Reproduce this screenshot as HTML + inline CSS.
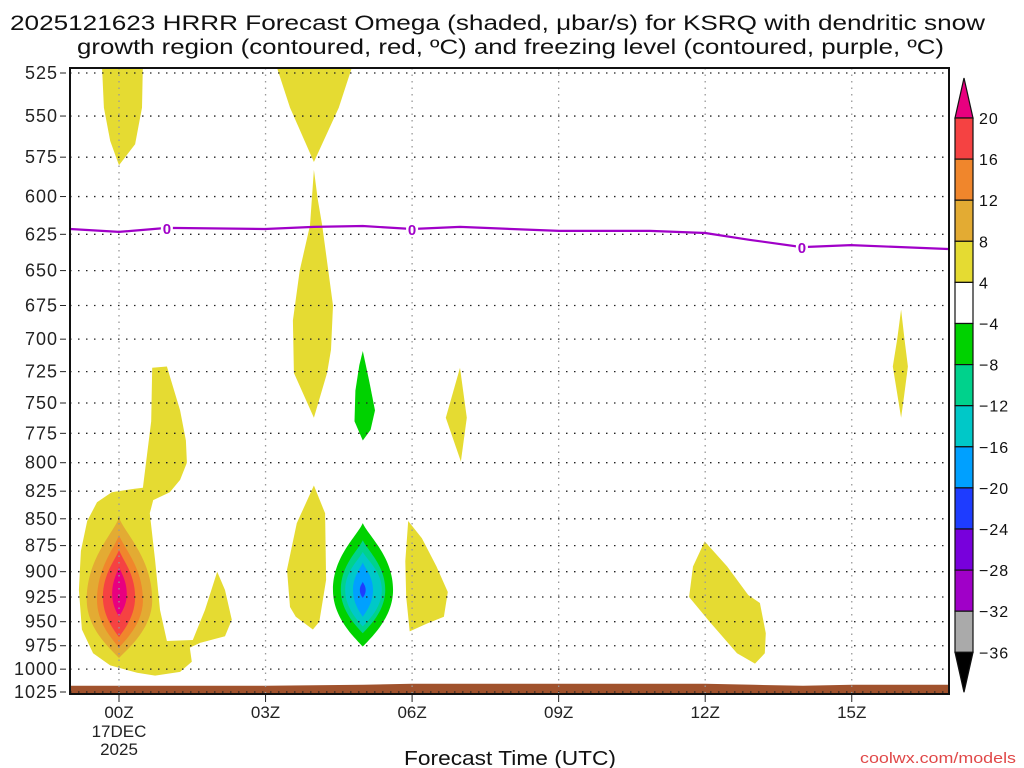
<!DOCTYPE html>
<html><head><meta charset="utf-8"><style>
html,body{margin:0;padding:0;background:#fff;}
svg{display:block;font-family:"Liberation Sans",sans-serif;}
</style></head><body>
<svg id="chart" width="1024" height="768" viewBox="0 0 1024 768" xmlns="http://www.w3.org/2000/svg">
<text x="10" y="30" font-size="21" textLength="975" lengthAdjust="spacingAndGlyphs" fill="#111">2025121623 HRRR Forecast Omega (shaded, μbar/s) for KSRQ with dendritic snow</text>
<text x="77" y="54" font-size="21" textLength="867" lengthAdjust="spacingAndGlyphs" fill="#111">growth region (contoured, red, ºC) and freezing level (contoured, purple, ºC)</text>
<g id="plot"></g>
<g id="cbar"></g>
<text x="510" y="765" font-size="20" text-anchor="middle" textLength="212" lengthAdjust="spacingAndGlyphs" fill="#111">Forecast Time (UTC)</text>
<text x="1016" y="763" font-size="15" text-anchor="end" textLength="156" lengthAdjust="spacingAndGlyphs" fill="#e04848">coolwx.com/models</text>
</svg>
<script>
const pressureLevels=[525,550,575,600,625,650,675,700,725,750,775,800,825,850,875,900,925,950,975,1000,1025];
const timeTicks=[0,3,6,9,12,15];
const timeLabels=["00Z","03Z","06Z","09Z","12Z","15Z"];
const cbarLevels=[20,16,12,8,4,-4,-8,-12,-16,-20,-24,-28,-32,-36];
const cbarColors=["#f54242","#f0862c","#e3ab33","#e5db32","#ffffff","#00d200","#00d28c","#00c8c8","#00a0ff","#1e3cff","#7800dc","#a000c8","#aaaaaa"];
const fzHours=[-1,0,0.98,2.99,3.99,4.99,6,6.98,9.01,10.87,12,12.92,13.98,14.98,16.97];
const fzPres=[621.4,623.4,620.7,621.4,620,619.4,621.4,620,622.7,622.7,624.1,628.8,633.7,632.3,635];
const fzLabelHours=[0.98,6,13.98];
const sfcHours=[-1,3,5,6,9,12,13,14,15,17];
const sfcPres=[1018,1018,1017,1016,1016,1016,1017,1018,1017,1017];
const yellowTopLeft=[[-0.35,520],[0.49,520],[0.47,545],[0.33,567],[0,580],[-0.18,565],[-0.31,545]];
const yellowTopMid=[[3.21,520],[4.79,520],[4.5,545],[3.99,578],[3.5,545]];
const yellowMidCol=[[3.99,583],[4.07,602],[4.16,619],[4.38,675],[4.34,708],[4.26,726],[3.99,762],[3.58,726],[3.56,686],[3.70,650],[3.91,619]];
const yellowLowLeft=[[0.68,722],[0.98,721],[1.25,756],[1.37,781],[1.39,800],[1.25,815],[1.04,826],[0.70,833],[0.63,845],[0.74,889],[0.84,938],[0.98,970],[1.51,969],[1.76,938],[2.01,900],[2.17,918],[2.31,948],[2.17,965],[1.66,972],[1.45,977],[1.49,992],[1.25,1003],[0.74,1007],[0.37,1004],[-0.18,996],[-0.53,983],[-0.76,958],[-0.82,918],[-0.78,880],[-0.65,852],[-0.45,835],[-0.15,826],[0.3,823],[0.49,822],[0.66,765]];
const yellow03Z=[[3.99,820],[4.22,845],[4.24,908],[4.1,950],[3.97,958],[3.62,945],[3.50,935],[3.44,898],[3.64,854]];
const yellow06Z=[[5.92,852],[6.2,868],[6.5,895],[6.73,920],[6.65,945],[6.3,952],[5.95,960],[5.88,925],[5.86,890]];
const yellow07Z=[[6.98,722],[7.12,762],[7.0,799],[6.69,762]];
const yellow12Z=[[11.99,871],[12.45,895],[12.88,923],[13.12,931],[13.24,962],[13.22,983],[13.02,994],[12.65,983],[12.09,950],[11.67,925],[11.75,895]];
const yellow16Z=[[16.01,678],[16.08,700],[16.15,721],[16.07,745],[16.01,762],[15.94,745],[15.84,721],[15.93,700]];
const green05Z=[[4.99,709],[5.12,732],[5.24,756],[5.15,772],[4.99,781],[4.82,765],[4.84,740],[4.92,720]];
// nested lens contours: [centerHour, topP, midP, bottomP, leftHour, rightHour]
const upLenses=[[0,849,928,988,-0.66,0.68],[0,865,928,977,-0.45,0.49],[0,879,925,966,-0.33,0.33],[0,895,922,945,-0.14,0.16]];
const upColors=["#e3ab33","#f0862c","#f54242","#e8007f"];
const downLenses=[[4.99,854,918,976,4.38,5.61],[4.99,870,918,962,4.54,5.45],[4.99,881,918,955,4.63,5.38],[4.99,891,918,945,4.79,5.20],[4.99,910,918,926,4.93,5.05]];
const downColors=["#00d200","#00d28c","#00c8c8","#00a0ff","#1e3cff"];

const X0=70,X1=949,Y0=68,Y1=694;
const xOf=h=>119+h*48.85;
const yOf=p=>73+619*Math.log(p/525)/Math.log(1025/525);
const NS="http://www.w3.org/2000/svg";
const plot=document.getElementById('plot');
function mk(tag,attrs,parent){const e=document.createElementNS(NS,tag);for(const k in attrs)e.setAttribute(k,attrs[k]);parent.appendChild(e);return e;}
const clip=mk('clipPath',{id:'pc'},plot);mk('rect',{x:X0,y:Y0,width:X1-X0,height:Y1-Y0},clip);
const shade=mk('g',{'clip-path':'url(#pc)'},plot);


function poly(pts,color,name){
  let d=pts.map((q,i)=>(i?'L':'M')+xOf(q[0]).toFixed(1)+','+yOf(q[1]).toFixed(1)).join('')+'Z';
  const e=mk('path',{d:d,fill:color},shade);
  
  
}
function lens(L,color,name){
  const [c,t,m,b,l,r]=L;
  const xc=xOf(c),yt=yOf(t),ym=yOf(m),yb=yOf(b),xl=xOf(l),xr=xOf(r);
  const d=`M${xc},${yt}C${xc+(xr-xc)*0.2},${yt+(ym-yt)*0.2} ${xr},${ym-(ym-yt)*0.5} ${xr},${ym}C${xr},${ym+(yb-ym)*0.5} ${xc+(xr-xc)*0.25},${yb-(yb-ym)*0.15} ${xc},${yb}C${xc-(xc-xl)*0.25},${yb-(yb-ym)*0.15} ${xl},${ym+(yb-ym)*0.5} ${xl},${ym}C${xl},${ym-(ym-yt)*0.5} ${xc-(xc-xl)*0.2},${yt+(ym-yt)*0.2} ${xc},${yt}Z`;
  const e=mk('path',{d:d,fill:color},shade);
  
  
}
const Y='#e5db32';
poly(yellowTopLeft,Y,'upward-area-top-left');
poly(yellowTopMid,Y,'upward-area-top-mid');
poly(yellowMidCol,Y,'upward-area-mid-column');
poly(yellowLowLeft,Y,'upward-area-low-left');
upLenses.forEach((L,i)=>lens(L,upColors[i],'upward-core-'+i));
poly(yellow03Z,Y,'upward-area-03z');
poly(yellow06Z,Y,'upward-area-06z');
poly(yellow07Z,Y,'upward-area-07z');
poly(yellow12Z,Y,'upward-area-12z');
poly(yellow16Z,Y,'upward-area-16z');
poly(green05Z,'#00d200','downward-area-05z-upper');
downLenses.forEach((L,i)=>lens(L,downColors[i],'downward-core-'+i));
// surface
let sd='M'+xOf(sfcHours[0])+','+(Y1+2);
sfcHours.forEach((h,i)=>{sd+='L'+xOf(h).toFixed(1)+','+yOf(sfcPres[i]).toFixed(1);});
sd+='L'+xOf(sfcHours[sfcHours.length-1])+','+(Y1+2)+'Z';
const sfc=mk('path',{d:sd,fill:'#a0522d'},shade);


// grid
pressureLevels.forEach((p,i)=>{
  const y=yOf(p);
  const g=mk('line',{x1:X0,x2:X1,y1:y,y2:y,stroke:'#222','stroke-width':1.3,'stroke-dasharray':'1.5 6.5'},plot);
  
  
  const t=mk('text',{x:58,y:y+6,'font-size':18,'text-anchor':'end',fill:'#222','letter-spacing':1},plot);
  t.textContent=p;
  
  
  mk('line',{x1:60,x2:66,y1:y,y2:y,stroke:'#222','stroke-width':1},plot);
});
timeTicks.forEach((h,i)=>{
  const x=xOf(h);
  const g=mk('line',{x1:x,x2:x,y1:Y0,y2:Y1,stroke:'#999','stroke-width':1.3,'stroke-dasharray':'1.5 5'},plot);
  
  
  mk('line',{x1:x,x2:x,y1:Y1,y2:Y1+8,stroke:'#222','stroke-width':1},plot);
  const t=mk('text',{x:x,y:718,'font-size':17,'text-anchor':'middle',fill:'#222'},plot);
  t.textContent=timeLabels[i];
  
  
});
const d1=mk('text',{x:xOf(0),y:737,'font-size':17,'text-anchor':'middle',fill:'#222'},plot);d1.textContent='17DEC';


const d2=mk('text',{x:xOf(0),y:755,'font-size':17,'text-anchor':'middle',fill:'#222'},plot);d2.textContent='2025';


// freezing level
const fzd=fzHours.map((h,i)=>(i?'L':'M')+xOf(h).toFixed(1)+','+yOf(fzPres[i]).toFixed(1)).join('');
const fz=mk('path',{d:fzd,fill:'none',stroke:'#a000c8','stroke-width':2.2,'clip-path':'url(#pc)'},plot);


fzLabelHours.forEach(h=>{
  let p=fzPres[0];for(let i=1;i<fzHours.length;i++){if(h<=fzHours[i]){const f=(h-fzHours[i-1])/(fzHours[i]-fzHours[i-1]);p=fzPres[i-1]+f*(fzPres[i]-fzPres[i-1]);break;}}
  const x=xOf(h),y=yOf(p);
  mk('rect',{x:x-6,y:y-8,width:12,height:16,fill:'#fff'},plot);
  const t=mk('text',{x:x,y:y+6,'font-size':15,'font-weight':'bold','text-anchor':'middle',fill:'#a000c8'},plot);
  t.textContent='0';
  
  
});
const bd=mk('rect',{x:X0,y:Y0,width:X1-X0,height:Y1-Y0,fill:'none',stroke:'#111','stroke-width':2},plot);


// colorbar
const cb=document.getElementById('cbar');
const CX=955,CW=18,CT=118,CS=41.1;
const tri1=mk('path',{d:`M${CX},${CT}L${CX+CW/2},78L${CX+CW},${CT}Z`,fill:'#e8007f',stroke:'#111','stroke-width':1.2},cb);


cbarColors.forEach((c,i)=>{
  const r=mk('rect',{x:CX,y:CT+i*CS,width:CW,height:CS,fill:c,stroke:'#111','stroke-width':1.2},cb);
  
  
});
const yb=CT+cbarColors.length*CS;
const tri2=mk('path',{d:`M${CX},${yb}L${CX+CW/2},${yb+40}L${CX+CW},${yb}Z`,fill:'#000',stroke:'#111','stroke-width':1.2},cb);


cbarLevels.forEach((v,i)=>{
  const t=mk('text',{x:979,y:CT+i*CS+6,'font-size':16,fill:'#111','letter-spacing':1},cb);
  t.textContent=v<0?'\u2212'+(-v):String(v);
  
  
});
</script>
</body></html>
